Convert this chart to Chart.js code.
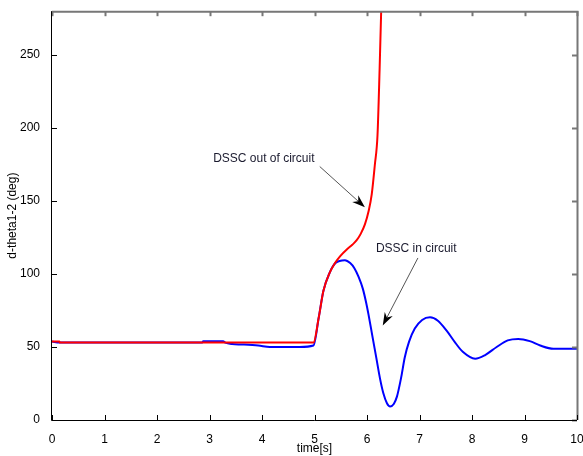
<!DOCTYPE html>
<html>
<head>
<meta charset="utf-8">
<script src="https://cdn.jsdelivr.net/npm/chart.js@4"></script>
<style>
  html, body { margin: 0; padding: 0; background: #fff; }
</style>
</head>
<body>
<canvas id="chart" width="583" height="456"></canvas>
<script>
// tick labels
const xTicks = [0, 1, 2, 3, 4, 5, 6, 7, 8, 9, 10];
const yTicks = [0, 50, 100, 150, 200, 250];

// DSSC in circuit (blue)
const blueTime = [0, 0.14, 2.86, 2.88, 3.26, 3.30, 3.43, 3.62, 3.93, 4.15, 4.72, 4.98, 5.08, 5.17, 5.29, 5.40,
  5.58, 5.68, 5.76, 5.84, 5.92, 5.98, 6.03, 6.10, 6.18, 6.25, 6.31, 6.38, 6.44, 6.51, 6.57, 6.65, 6.72, 6.80,
  6.91, 7.05, 7.20, 7.35, 7.52, 7.68, 7.83, 8.06, 8.25, 8.47, 8.68, 8.88, 9.10, 9.30, 9.55, 10];
const blueVal = [53.7, 53, 53, 54, 54, 53, 52, 51.7, 51, 50, 50, 51, 70, 88.5, 101, 107.5,
  109.5, 107.5, 104, 98, 90, 81, 72, 58, 42, 28, 18.5, 11.5, 9.3, 11, 16, 29, 43, 53.5,
  62.6, 68.5, 70.3, 68, 61, 53, 46.5, 42, 44.5, 50, 54.5, 55.5, 54, 51, 48.8, 48.8];

// DSSC out of circuit (red)
const redTime = [0, 0.14, 0.15, 4.98, 5.08, 5.17, 5.29, 5.39, 5.49, 5.62, 5.72, 5.80, 5.88, 5.96, 6.03, 6.09, 6.15, 6.20, 6.24, 6.27, 6.30];
const redVal = [53.7, 53.7, 53, 53, 70, 88.5, 101, 107.5, 112.3, 117, 120, 123, 127.5, 134, 143, 154.5, 175, 195, 240, 280, 330];

// text notes with arrows, in data units
const notes = [
  { text: 'DSSC out of circuit', tx: 3.07, ty: 178.7, x0: 5.10, y0: 173.6, x1: 5.96, y1: 145.7 },
  { text: 'DSSC in circuit', tx: 6.17, ty: 117, x0: 6.97, y0: 111, x1: 6.30, y1: 64.7 }
];

const FONT = "'Liberation Sans', Arial, sans-serif";

function toPoints(ts, vs) {
  return ts.map((t, i) => ({ x: t, y: vs[i] }));
}

function drawArrow(ctx, x0, y0, x1, y1) {
  const ang = Math.atan2(y1 - y0, x1 - x0);
  const c = Math.cos(ang), s = Math.sin(ang);
  const L = 13, W = 4.5, N = 4;
  const bx = x1 - L * c, by = y1 - L * s;
  ctx.strokeStyle = '#555';
  ctx.lineWidth = 1;
  ctx.beginPath();
  ctx.moveTo(x0, y0);
  ctx.lineTo(x1 - (L - N) * c, y1 - (L - N) * s);
  ctx.stroke();
  ctx.fillStyle = '#000';
  ctx.beginPath();
  ctx.moveTo(x1, y1);
  ctx.lineTo(bx - W * s, by + W * c);
  ctx.lineTo(x1 - (L - N) * c, y1 - (L - N) * s);
  ctx.lineTo(bx + W * s, by - W * c);
  ctx.closePath();
  ctx.fill();
}

// box round the plot with inward ticks, like matlab
const framePlugin = {
  id: 'frame',
  afterDraw(chart) {
    const { ctx, chartArea: a, scales: { x, y } } = chart;
    ctx.save();
    ctx.lineWidth = 2;
    ctx.strokeStyle = '#777';
    ctx.beginPath();
    ctx.moveTo(a.left, a.top + 0.5);
    ctx.lineTo(a.right + 0.5, a.top + 0.5);
    ctx.lineTo(a.right + 0.5, a.bottom);
    ctx.stroke();
    xTicks.forEach(v => {
      const px = Math.round(x.getPixelForValue(v)) + 0.5;
      ctx.beginPath();
      ctx.moveTo(px, a.top);
      ctx.lineTo(px, a.top + 5);
      ctx.stroke();
    });
    yTicks.forEach(v => {
      const py = Math.round(y.getPixelForValue(v)) + 0.5;
      ctx.beginPath();
      ctx.moveTo(a.right, py);
      ctx.lineTo(a.right - 5, py);
      ctx.stroke();
    });
    ctx.lineWidth = 1;
    ctx.strokeStyle = '#000';
    ctx.beginPath();
    ctx.moveTo(a.left - 0.5, a.top);
    ctx.lineTo(a.left - 0.5, a.bottom + 0.5);
    ctx.lineTo(a.right, a.bottom + 0.5);
    ctx.stroke();
    xTicks.forEach(v => {
      const px = Math.round(x.getPixelForValue(v)) + 0.5;
      ctx.beginPath();
      ctx.moveTo(px, a.bottom);
      ctx.lineTo(px, a.bottom - 5);
      ctx.stroke();
    });
    yTicks.forEach(v => {
      const py = Math.round(y.getPixelForValue(v)) + 0.5;
      ctx.beginPath();
      ctx.moveTo(a.left, py);
      ctx.lineTo(a.left + 5, py);
      ctx.stroke();
    });

    // notes
    ctx.font = '12px ' + FONT;
    ctx.textBaseline = 'middle';
    notes.forEach(n => {
      ctx.fillStyle = '#1a1a2e';
      ctx.fillText(n.text, x.getPixelForValue(n.tx), y.getPixelForValue(n.ty));
      drawArrow(ctx, x.getPixelForValue(n.x0), y.getPixelForValue(n.y0),
        x.getPixelForValue(n.x1), y.getPixelForValue(n.y1));
    });
    ctx.restore();
  }
};

const ctx = document.getElementById('chart').getContext('2d');

new Chart(ctx, {
  type: 'line',
  data: {
    datasets: [
      { label: 'DSSC out of circuit', data: toPoints(redTime, redVal), borderColor: '#ff0000' },
      { label: 'DSSC in circuit', data: toPoints(blueTime, blueVal), borderColor: '#0000ff' }
    ]
  },
  options: {
    responsive: false,
    animation: false,
    devicePixelRatio: 1,
    layout: { padding: { top: 10, right: 6, left: 0, bottom: 0 } },
    elements: {
      point: { radius: 0 },
      line: { borderWidth: 2, cubicInterpolationMode: 'monotone', fill: false }
    },
    plugins: {
      legend: { display: false },
      tooltip: { enabled: false }
    },
    scales: {
      x: {
        type: 'linear',
        min: 0,
        max: 10,
        afterBuildTicks: s => { s.ticks = xTicks.map(v => ({ value: v })); },
        afterFit: s => { s.height = 36; s.paddingLeft = 0; s.paddingRight = 0; },
        grid: { display: false },
        border: { display: false },
        ticks: { color: '#000', font: { family: FONT, size: 12 }, padding: 4, maxRotation: 0, autoSkip: false },
        title: { display: true, text: 'time[s]', color: '#000', font: { family: FONT, size: 12 }, padding: { top: 0, bottom: 0 } }
      },
      y: {
        type: 'linear',
        min: 0,
        max: 280,
        afterBuildTicks: s => { s.ticks = yTicks.map(v => ({ value: v })); },
        afterFit: s => { s.width = 52; },
        grid: { display: false },
        border: { display: false },
        ticks: { color: '#000', font: { family: FONT, size: 12 }, padding: 4 },
        title: { display: true, text: 'd-theta1-2 (deg)', color: '#000', font: { family: FONT, size: 12 }, padding: { top: 5, bottom: 0 } }
      }
    }
  },
  plugins: [framePlugin]
});
</script>
</body>
</html>
